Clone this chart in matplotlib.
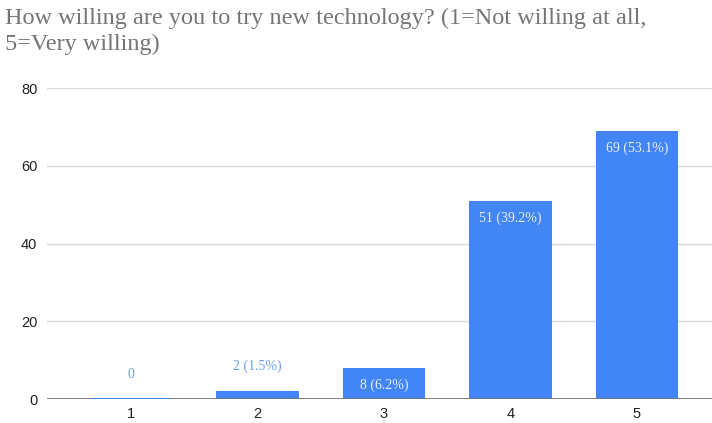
import matplotlib.pyplot as plt
import numpy as np

ratings = ['1', '2', '3', '4', '5']
counts = [0, 2, 8, 51, 69]
labels = ['0', '2 (1.5%)', '8 (6.2%)', '51 (39.2%)', '69 (53.1%)']
yticks = [0, 20, 40, 60, 80]

W, H = 712, 423
fig = plt.figure(figsize=(W / 100, H / 100), dpi=100)
ax = fig.add_axes([47 / W, 24 / H, (W - 47) / W, (399 - 88) / H])

blue = '#4285f4'
x = np.arange(len(ratings))
ax.bar(x, counts, width=0.65, color=blue, zorder=3)
# the zero bar still shows as a thin line on the baseline
ax.hlines(0, x[0] - 0.325, x[0] + 0.325, color=blue, lw=2, zorder=7)

for xi, c, lab in zip(x, counts, labels):
    if c >= 5:
        ax.annotate(lab, (xi, c), xytext=(0, -8), textcoords='offset points',
                    ha='center', va='top', color='#e8effd', fontsize=10,
                    family='Liberation Serif', zorder=5)
    else:
        ax.annotate(lab, (xi, c), xytext=(0, 13), textcoords='offset points',
                    ha='center', va='bottom', color='#6d9ef6', fontsize=10,
                    family='Liberation Serif', zorder=5)

ax.set_xlim(-0.664, 4.593)
ax.set_ylim(0, 80)
ax.set_xticks(x)
ax.set_xticklabels(ratings)
ax.set_yticks(yticks)
ax.tick_params(length=0, labelsize=10.5, colors='#222222')
ax.tick_params(axis='y', pad=7)
ax.tick_params(axis='x', pad=6)
ax.grid(axis='y', color='#d9d9d9', lw=1, zorder=0)
for s in ax.spines.values():
    s.set_visible(False)
ax.axhline(0, color='#757575', lw=2, zorder=6)
for t in ax.get_xticklabels() + ax.get_yticklabels():
    t.set_family('Liberation Sans')

fig.text(5 / W, 1 - 8 / H,
         'How willing are you to try new technology? (1=Not willing at all,\n5=Very willing)',
         ha='left', va='top', fontsize=17.5, color='#757575',
         family='Liberation Serif', linespacing=1.3)

fig.savefig('out.png', dpi=100)
